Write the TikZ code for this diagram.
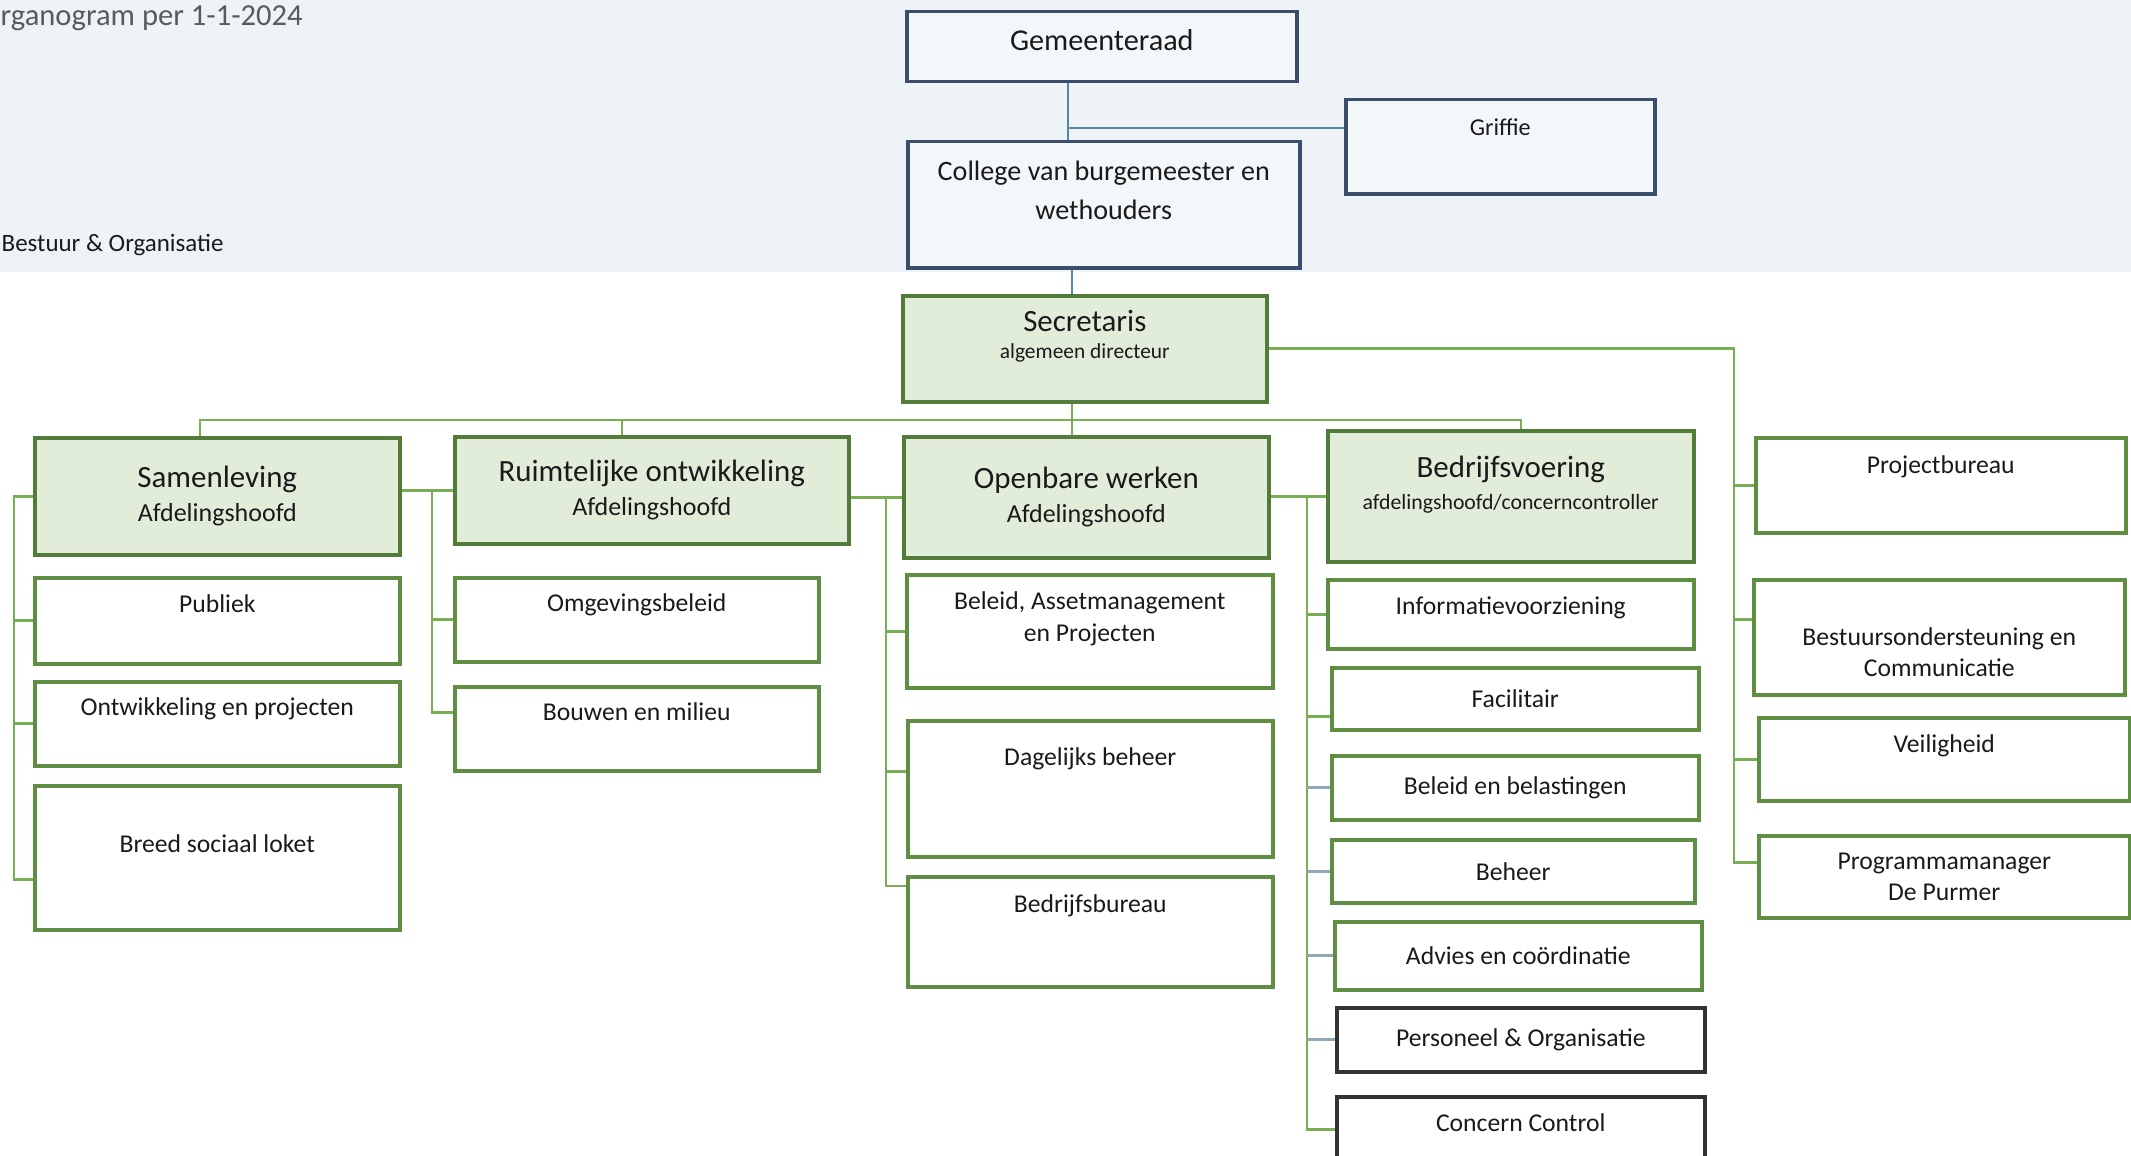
\documentclass[tikz,border=0pt]{standalone}
\usepackage{fontspec}
\setmainfont{Carlito}
\usetikzlibrary{positioning}

\definecolor{bandfill}{HTML}{EEF3F8}
\definecolor{boardline}{HTML}{3A4D6B}
\definecolor{boardlink}{HTML}{5487AC}
\definecolor{deptfill}{HTML}{E2EDD9}
\definecolor{deptline}{HTML}{537C3A}
\definecolor{unitline}{HTML}{5F8E43}
\definecolor{linkgreen}{HTML}{7AAE55}
\definecolor{linkgrey}{HTML}{8FA8B8}
\definecolor{inktext}{HTML}{1A1A1A}
\definecolor{titlegrey}{HTML}{5A5A5A}

\begin{document}
\begin{tikzpicture}[
        font=\fontsize{7.3}{8.9}\selectfont,
        every node/.style={text=inktext, inner sep=1pt},
        dims/.style 2 args={minimum width=#1cm, minimum height=#2cm},
        lift/.style={text depth=#1},
        sink/.style={text height=#1},
        board/.style={rectangle, draw=boardline, fill=bandfill!70!white, line width=1pt,
            anchor=north west, align=center, font=\fontsize{8.6}{11.2}\selectfont},
        dept/.style={rectangle, draw=deptline, fill=deptfill, line width=1pt,
            anchor=north west, align=center, font=\fontsize{8.8}{9.8}\selectfont},
        unit/.style={rectangle, draw=unitline, fill=white, line width=1pt,
            anchor=north west, align=center},
        darkunit/.style={unit, draw=black!80},
        link/.style={draw=linkgreen, line width=0.75pt},
        boardwire/.style={draw=boardlink, line width=0.8pt},
        greywire/.style={draw=linkgrey, line width=0.75pt}
    ]
        \useasboundingbox (0,0) rectangle (21.31,-11.56);
        \fill[bandfill] (0,0) rectangle (21.31,-2.72);

        % Titels
        \node[anchor=base west, inner sep=0pt, text=titlegrey, font=\fontsize{8.7}{10}\selectfont] (title) at (0.0,-0.26) {rganogram per 1-1-2024};
        \node[anchor=west, inner sep=0pt, font=\fontsize{7.1}{8}\selectfont] (bestuur) at (0.01,-2.45) {Bestuur \& Organisatie};

        % Bestuur
        \node[board, dims={3.90}{0.70}, lift=3.9pt] (raad) at (9.05,-0.10) {Gemeenteraad};
        \node[board, dims={3.09}{0.94}, lift=11pt, font=\fontsize{6.9}{8.5}\selectfont] (griffie) at (13.44,-0.98) {Griffie};
        \node[board, dims={3.92}{1.26}, lift=8.1pt, font=\fontsize{8.0}{11.2}\selectfont] (college) at (9.06,-1.40) {College van burgemeester en\\wethouders};
        \node[dept, dims={3.64}{1.06}, lift=8.3pt] (secr) at (9.01,-2.94) {Secretaris\\[-2pt]{\fontsize{6.1}{7}\selectfont algemeen directeur}};

        % Afdelingen
        \node[dept, dims={3.65}{1.17}] (samen) at (0.33,-4.36) {Samenleving\\{\fontsize{7.4}{9}\selectfont Afdelingshoofd}};
        \node[dept, dims={3.94}{1.07}] (ruimte) at (4.53,-4.35) {Ruimtelijke ontwikkeling\\{\fontsize{7.4}{9}\selectfont Afdelingshoofd}};
        \node[dept, dims={3.65}{1.21}] (openb) at (9.02,-4.35) {Openbare werken\\{\fontsize{7.4}{9}\selectfont Afdelingshoofd}};
        \node[dept, dims={3.66}{1.31}, lift=7.8pt] (bdv) at (13.26,-4.29) {Bedrijfsvoering\\[-0.8pt]{\fontsize{6.2}{7}\selectfont afdelingshoofd/concerncontroller}};

        % Samenleving
        \node[unit, dims={3.65}{0.86}, lift=9.5pt] (publiek) at (0.33,-5.76) {Publiek};
        \node[unit, dims={3.65}{0.84}, lift=9.5pt] (ontw) at (0.33,-6.80) {Ontwikkeling en projecten};
        \node[unit, dims={3.65}{1.44}, lift=8.3pt] (breed) at (0.33,-7.84) {Breed sociaal loket};

        % Ruimtelijke ontwikkeling
        \node[unit, dims={3.64}{0.84}, lift=9.5pt] (omgeving) at (4.53,-5.76) {Omgevingsbeleid};
        \node[unit, dims={3.64}{0.84}, lift=10pt] (bouwen) at (4.53,-6.85) {Bouwen en milieu};

        % Openbare werken
        \node[unit, dims={3.66}{1.13}, lift=8.4pt] (beleidam) at (9.05,-5.73) {Beleid, Assetmanagement\\en Projecten};
        \node[unit, dims={3.65}{1.36}, lift=18.5pt] (dagelijks) at (9.06,-7.19) {Dagelijks beheer};
        \node[unit, dims={3.65}{1.10}, lift=16.3pt] (bbureau) at (9.06,-8.75) {Bedrijfsbureau};

        % Bedrijfsvoering
        \node[unit, dims={3.66}{0.69}, lift=5pt] (info) at (13.26,-5.78) {Informatievoorziening};
        \node[unit, dims={3.67}{0.62}] (facil) at (13.30,-6.66) {Facilitair};
        \node[unit, dims={3.67}{0.64}] (belast) at (13.30,-7.54) {Beleid en belastingen};
        \node[unit, dims={3.63}{0.63}] (beheer) at (13.30,-8.38) {Beheer};
        \node[unit, dims={3.67}{0.68}] (advies) at (13.33,-9.20) {Advies en coördinatie};
        \node[darkunit, dims={3.68}{0.64}] (personeel) at (13.35,-10.06) {Personeel \& Organisatie};
        \node[darkunit, dims={3.68}{0.66}, lift=4pt] (concern) at (13.35,-10.95) {Concern Control};

        % Staf
        \node[unit, dims={3.70}{0.95}, lift=11.7pt] (projb) at (17.54,-4.36) {Projectbureau};
        \node[unit, dims={3.71}{1.15}, sink=22.6pt] (bso) at (17.52,-5.78) {Bestuursondersteuning en\\Communicatie};
        \node[unit, dims={3.71}{0.83}, lift=8.9pt] (veilig) at (17.57,-7.16) {Veiligheid};
        \node[unit, dims={3.71}{0.82}] (prog) at (17.57,-8.34) {Programmamanager\\De Purmer};

        % Lijnen bestuur
        \coordinate (gsplit) at (10.68,-1.28);
        \draw[boardwire] (gsplit |- raad.south) -- (gsplit |- college.north);
        \draw[boardwire] (gsplit) -- (griffie.west |- gsplit);
        \coordinate (bus) at (10.72,-4.20);
        \draw[boardwire] (bus |- college.south) -- (bus |- secr.north);
        \draw[link] (secr.south -| bus) -- (bus);

        % Lijnen afdelingen
        \coordinate (samdrop) at (2.00,-4.20);
        \coordinate (ruidrop) at (6.22,-4.20);
        \coordinate (bdvdrop) at (15.21,-4.20);
        \draw[link] (samdrop |- samen.north) -- (samdrop) -- (bdvdrop) -- (bdvdrop |- bdv.north);
        \draw[link] (ruidrop) -- (ruidrop |- ruimte.north);
        \draw[link] (bus) -- (bus |- openb.north);

        % Staf
        \coordinate (staf) at (17.34,0);
        \coordinate (progtick) at ([yshift=0.14cm]prog.west);
        \coordinate (bsotick) at ([yshift=0.18cm]bso.west);
        \draw[link] (secr.east) -- (staf |- secr.east) -- (staf |- progtick) -- (progtick);
        \draw[link] (staf |- projb.west) -- (projb.west);
        \draw[link] (staf |- bsotick) -- (bsotick);
        \draw[link] (staf |- veilig.west) -- (veilig.west);

        % Samenleving
        \coordinate (sambar) at (0.14,0);
        \coordinate (breedtick) at ([yshift=-0.22cm]breed.west);
        \draw[link] (samen.west) -- (sambar |- samen.west) -- (sambar |- breedtick) -- (breedtick);
        \draw[link] (sambar |- publiek.west) -- (publiek.west);
        \draw[link] (sambar |- ontw.west) -- (ontw.west);

        % Ruimtelijke ontwikkeling
        \coordinate (ruibar) at (4.32,0);
        \coordinate (bouwtick) at ([yshift=0.16cm]bouwen.west);
        \draw[link] (samen.east |- ruimte.west) -- (ruimte.west);
        \draw[link] (ruibar |- ruimte.west) -- (ruibar |- bouwtick) -- (bouwtick);
        \draw[link] (ruibar |- omgeving.west) -- (omgeving.west);

        % Openbare werken
        \coordinate (owbar) at (8.86,0);
        \coordinate (bbtick) at ([yshift=-0.11cm]bbureau.north west);
        \coordinate (dagtick) at ([yshift=0.17cm]dagelijks.west);
        \draw[link] (ruimte.east |- openb.west) -- (openb.west);
        \draw[link] (owbar |- openb.west) -- (owbar |- bbtick) -- (bbtick);
        \draw[link] (owbar |- beleidam.west) -- (beleidam.west);
        \draw[link] (owbar |- dagtick) -- (dagtick);

        % Bedrijfsvoering
        \coordinate (bvbar) at (13.07,0);
        \coordinate (faciltick) at ([yshift=-0.18cm]facil.west);
        \draw[link] (openb.east |- bdv.west) -- (bdv.west);
        \draw[link] (bvbar |- bdv.west) -- (bvbar |- concern.west) -- (concern.west);
        \draw[link] (bvbar |- info.west) -- (info.west);
        \draw[link] (bvbar |- faciltick) -- (faciltick);
        \draw[greywire] (bvbar |- belast.west) -- (belast.west);
        \draw[greywire] (bvbar |- beheer.west) -- (beheer.west);
        \draw[greywire] (bvbar |- advies.west) -- (advies.west);
        \draw[greywire] (bvbar |- personeel.west) -- (personeel.west);
\end{tikzpicture}
\end{document}
